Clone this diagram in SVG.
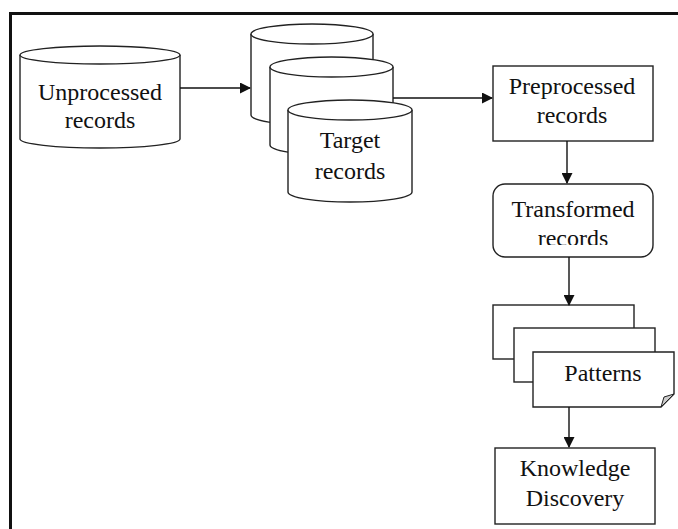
<svg xmlns="http://www.w3.org/2000/svg" width="678" height="529" viewBox="0 0 678 529">
<style>
.s{fill:#fff;stroke:#222;stroke-width:1.4}
.t{font-family:"Liberation Serif","Times New Roman",serif;font-size:24px;fill:#111;text-anchor:middle}
.c{fill:none;stroke:#111;stroke-width:1.4}
</style>
<defs>
<marker id="ah" markerWidth="11" markerHeight="11" refX="10" refY="5.5" orient="auto" markerUnits="userSpaceOnUse">
<path d="M0,0 L11,5.5 L0,11 Z" fill="#111"/>
</marker>
<clipPath id="clipT"><rect x="493" y="184" width="160" height="61"/></clipPath>
</defs>
<rect x="10.5" y="13.5" width="700" height="600" fill="#fff" stroke="#111" stroke-width="3"/>
<g id="unprocessed">
<path class="s" d="M20,55 V139 A80,9 0 0 0 180,139 V55"/>
<ellipse class="s" cx="100" cy="55" rx="80" ry="9"/>
<text class="t" x="100" y="100">Unprocessed</text>
<text class="t" x="100" y="128">records</text>
</g>
<g id="target">
<path class="s" d="M251,34 V115 A61,10 0 0 0 373,115 V34"/>
<ellipse class="s" cx="312" cy="34" rx="61" ry="10"/>
<path class="s" d="M270,67 V145 A61.5,10 0 0 0 393,145 V67"/>
<ellipse class="s" cx="331.5" cy="67" rx="61.5" ry="10"/>
<path class="s" d="M288,110 V192 A62,10 0 0 0 412,192 V110"/>
<ellipse class="s" cx="350" cy="110" rx="62" ry="10"/>
<text class="t" x="350" y="148">Target</text>
<text class="t" x="350" y="179">records</text>
</g>
<g id="preprocessed">
<rect class="s" x="493" y="66" width="160" height="75"/>
<text class="t" x="572" y="94">Preprocessed</text>
<text class="t" x="572" y="123">records</text>
</g>
<g id="transformed">
<rect class="s" x="493" y="184" width="160" height="73" rx="12"/>
<g clip-path="url(#clipT)">
<text class="t" x="573" y="217">Transformed</text>
<text class="t" x="573" y="246">records</text>
</g>
</g>
<g id="patterns">
<rect class="s" x="493" y="305" width="141" height="54"/>
<rect class="s" x="514" y="328" width="141" height="54"/>
<path class="s" d="M533,352 H674 V394 L661,407 H533 Z"/>
<path d="M661,407 L664,397 L674,394 Z" fill="#ccc" stroke="#222" stroke-width="1"/>
<text class="t" x="603" y="381">Patterns</text>
</g>
<g id="knowledge">
<rect class="s" x="495" y="448" width="160" height="76"/>
<text class="t" x="575" y="476">Knowledge</text>
<text class="t" x="575" y="506">Discovery</text>
</g>
<g id="connectors">
<line class="c" x1="180" y1="88" x2="250" y2="88" marker-end="url(#ah)"/>
<line class="c" x1="393" y1="98" x2="492" y2="98" marker-end="url(#ah)"/>
<line class="c" x1="567" y1="141" x2="567" y2="183" marker-end="url(#ah)"/>
<line class="c" x1="569" y1="257" x2="569" y2="305" marker-end="url(#ah)"/>
<line class="c" x1="569" y1="407" x2="569" y2="447" marker-end="url(#ah)"/>
</g>
</svg>
